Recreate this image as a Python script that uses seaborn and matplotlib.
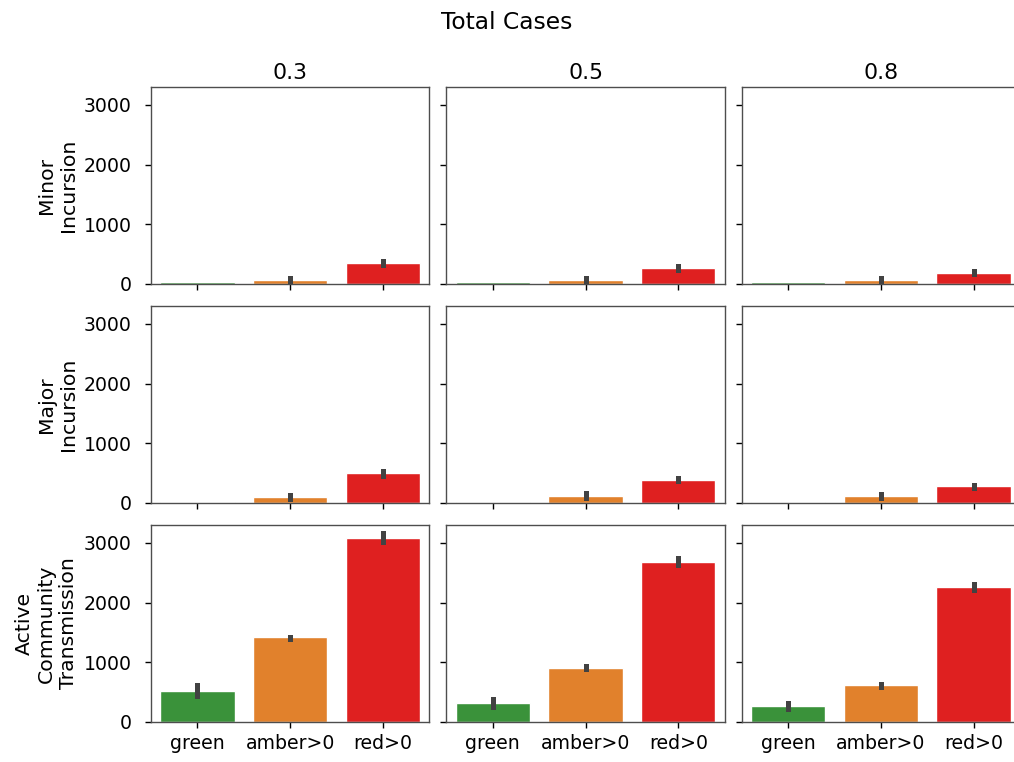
import numpy as np
import pandas as pd
import matplotlib
matplotlib.use("Agg")
import matplotlib.pyplot as plt
import seaborn as sns

# ---- data ----
levels = ["green", "amber>0", "red>0"]
thresholds = ["0.3", "0.5", "0.8"]
scenarios = ["Minor\nIncursion", "Major\nIncursion", "Active\nCommunity\nTransmission"]
palette = ["tab:green", "tab:orange", "red"]

# mean total cases, per scenario (row) x threshold (column) x level
minor_mean = [[30, 62, 347], [30, 62, 261], [30, 62, 188]]
minor_lo   = [[30, 35, 313], [30, 35, 233], [30, 35, 160]]
minor_hi   = [[30, 92, 380], [30, 92, 295], [30, 92, 212]]

major_mean = [[22, 95, 497], [22, 123, 391], [22, 120, 279]]
major_lo   = [[22, 60, 458], [22, 90, 362], [22, 85, 252]]
major_hi   = [[22, 135, 535], [22, 160, 423], [22, 155, 307]]

act_mean = [[515, 1416, 3082], [314, 906, 2680], [263, 616, 2260]]
act_lo   = [[437, 1385, 3010], [253, 880, 2625], [215, 590, 2215]]
act_hi   = [[615, 1430, 3165], [386, 930, 2755], [325, 640, 2320]]

means = [minor_mean, major_mean, act_mean]
los = [minor_lo, major_lo, act_lo]
his = [minor_hi, major_hi, act_hi]

# ---- plot ----
sns.set_theme(context="notebook", style="ticks", font_scale=1.2)
plt.rcParams["font.family"] = ["DejaVu Sans"]
plt.rcParams.update({
    "text.color": "black",
    "axes.labelcolor": "black",
    "xtick.color": "black",
    "ytick.color": "black",
    "axes.edgecolor": "0.3",
    "axes.linewidth": 1.0,
    "xtick.major.width": 1.0,
    "ytick.major.width": 1.0,
    "xtick.major.size": 4,
    "ytick.major.size": 4,
    "ytick.major.pad": 10,
    "xtick.major.pad": 5,
    "xtick.labelsize": 13.6,
    "ytick.labelsize": 13.6,
    "axes.labelsize": 14.7,
    "axes.titlesize": 15.8,
})

fig, axes = plt.subplots(3, 3, figsize=(10.14, 7.62), dpi=100, sharex=True, sharey=True,
                         gridspec_kw=dict(wspace=0.061, hspace=0.112))
fig.subplots_adjust(left=151 / 1014, right=1020 / 1014, top=1 - 87 / 762, bottom=1 - 722 / 762)

for r in range(3):
    for c in range(3):
        ax = axes[r, c]
        df = pd.DataFrame({"level": levels, "cases": means[r][c]})
        sns.barplot(data=df, x="level", y="cases", hue="level", palette=palette,
                    hue_order=levels, order=levels, legend=False, errorbar=None, ax=ax)
        for i in range(3):
            if his[r][c][i] > los[r][c][i]:
                ax.plot([i, i], [los[r][c][i], his[r][c][i]], color=".26", lw=3.6,
                        solid_capstyle="projecting", zorder=3)
        ax.set_xlabel("")
        ax.set_ylabel(scenarios[r] if c == 0 else "")
        if r == 0:
            ax.set_title(thresholds[c])
        ax.set_yticks([0, 1000, 2000, 3000])

axes[0, 0].set_xlim(-0.5, 2.5)
axes[0, 0].set_ylim(0, 3300)
fig.suptitle("Total Cases", fontsize=16.8, y=0.985)
fig.savefig("out.png", dpi=100)
